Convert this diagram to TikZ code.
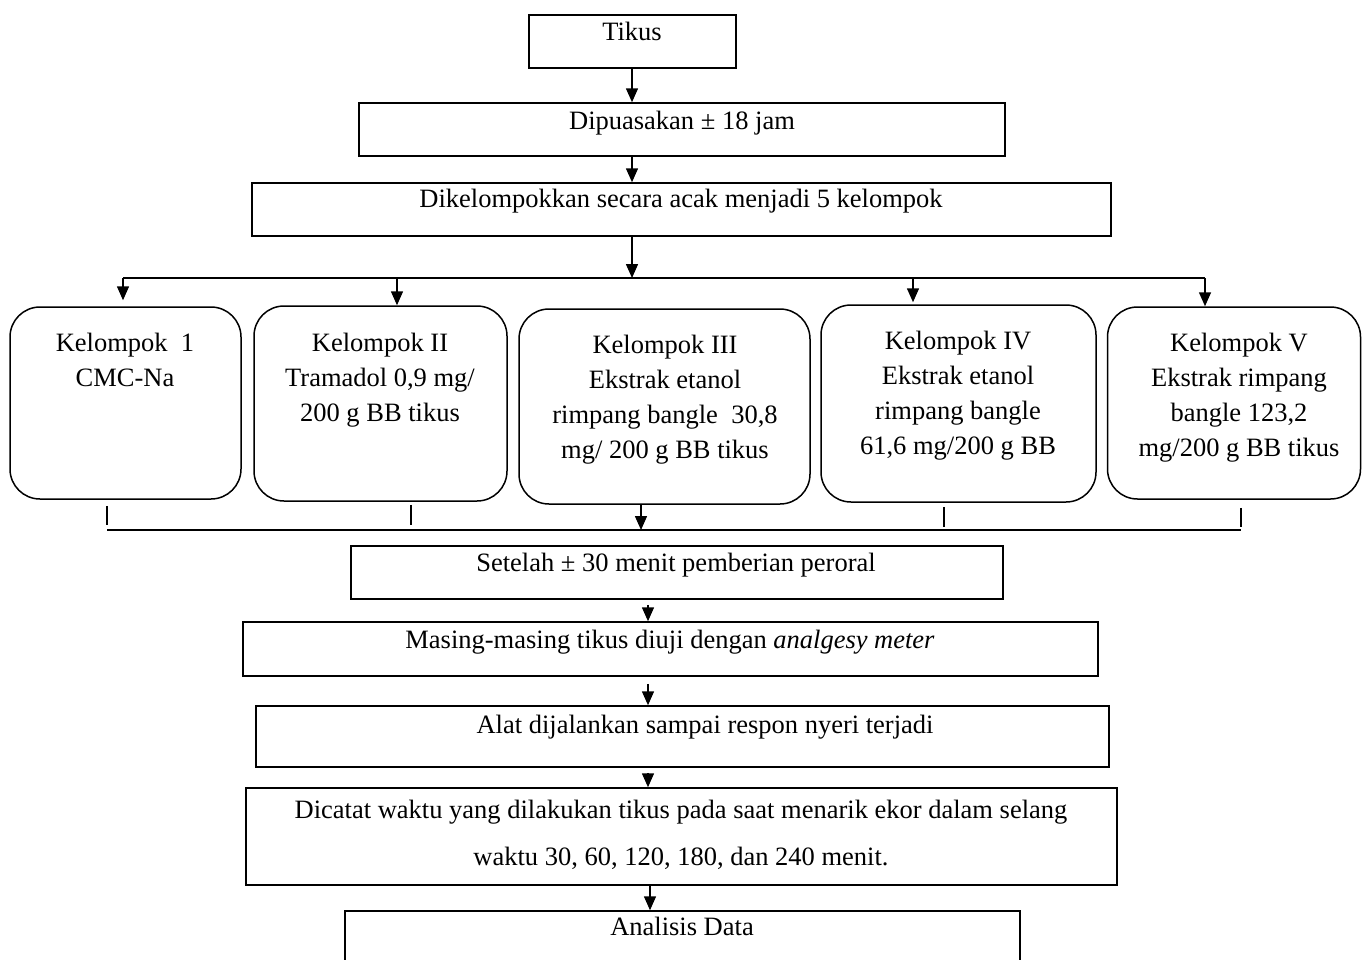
\documentclass[tikz,border=0pt]{standalone}
\usepackage{fontspec}
\setmainfont{Liberation Serif}
\usetikzlibrary{arrows.meta}
\tikzset{
  box/.style={draw, line width=1.5pt, inner sep=0pt},
  rbox/.style={draw, line width=1.5pt, inner sep=0pt, rounded corners=30pt},
  lbl/.style={inner sep=0pt, align=center, font=\fontsize{26.5}{35}\selectfont},
  arr/.style={line width=1.5pt, -{Triangle[width=12pt,length=14pt]}},
  ln/.style={line width=1.5pt},
}
\begin{document}
\begin{tikzpicture}[x=1pt,y=-1pt]
\useasboundingbox (0,0) rectangle (1362,959);
% boxes
\node[box, minimum width=207pt, minimum height=53pt] (b1) at (632.5,41.5) {};
\node[box, minimum width=646pt, minimum height=53pt] (b2) at (682,129.5) {};
\node[box, minimum width=859pt, minimum height=53pt] (b3) at (681.5,209.5) {};
\node[rbox, minimum width=231pt, minimum height=192pt] (k1) at (125.5,403) {};
\node[rbox, minimum width=253pt, minimum height=195pt] (k2) at (380.5,403.5) {};
\node[rbox, minimum width=291pt, minimum height=195pt] (k3) at (664.5,406.5) {};
\node[rbox, minimum width=275pt, minimum height=197pt] (k4) at (958.5,403.5) {};
\node[rbox, minimum width=253pt, minimum height=192pt] (k5) at (1234,403) {};
\node[box, minimum width=652pt, minimum height=53pt] (b4) at (677,572.5) {};
\node[box, minimum width=855pt, minimum height=54pt] (b5) at (670.5,649) {};
\node[box, minimum width=853pt, minimum height=61pt] (b6) at (682.5,736.5) {};
\node[box, minimum width=871pt, minimum height=97pt] (b7) at (681.5,836.5) {};
\node[box, minimum width=675pt, minimum height=89pt] (b8) at (682.5,955.5) {};
% texts
\node[lbl, anchor=base] (t1) at (632,40) {Tikus};
\node[lbl, anchor=base] (t2) at (682,129) {Dipuasakan ± 18 jam};
\node[lbl, anchor=base] (t3) at (681,207) {Dikelompokkan secara acak menjadi 5 kelompok};
\node[lbl, anchor=north] (tk1) at (125,333) {Kelompok\ \ 1\\CMC-Na};
\node[lbl, anchor=north] (tk2) at (380,333) {Kelompok II\\Tramadol 0,9 mg/\\200 g BB tikus};
\node[lbl, anchor=north] (tk3) at (665,335) {Kelompok III\\Ekstrak etanol\\rimpang bangle\ \ 30,8\\mg/ 200 g BB tikus};
\node[lbl, anchor=north] (tk4) at (958,331) {Kelompok IV\\Ekstrak etanol\\rimpang bangle\\61,6 mg/200 g BB};
\node[lbl, anchor=north] (tk5) at (1239,333) {Kelompok V\\Ekstrak rimpang\\bangle 123,2\\mg/200 g BB tikus};
\node[lbl, anchor=base] (t4) at (676,571) {Setelah ± 30 menit pemberian peroral};
\node[lbl, anchor=base] (t5) at (670,648) {Masing-masing tikus diuji dengan \textit{analgesy meter}};
\node[lbl, anchor=base] (t6) at (705,733) {Alat dijalankan sampai respon nyeri terjadi};
\node[lbl, anchor=north, font=\fontsize{26.5}{47}\selectfont] (t7) at (681,800) {Dicatat waktu yang dilakukan tikus pada saat menarik ekor dalam selang\\waktu 30, 60, 120, 180, dan 240 menit.};
\node[lbl, anchor=base] (t8) at (682,935) {Analisis Data};
% top connectors
\coordinate (c0) at (632,0);
\draw[arr] (b1.south -| c0) -- (b2.north -| c0);
\draw[arr] (b2.south -| c0) -- (b3.north -| c0);
\coordinate (barL) at (123,278);
\coordinate (barR) at (1205,278);
\draw[ln] (barL) -- (barR);
\draw[arr] (b3.south -| c0) -- (c0 |- barL);
\coordinate (a2) at (397,278);
\coordinate (a4) at (913,278);
\draw[arr] (barL) -- ([yshift=6pt]barL |- k1.north);
\draw[arr] (a2) -- (a2 |- k2.north);
\draw[arr] (a4) -- ([yshift=2pt]a4 |- k4.north);
\draw[arr] (barR) -- (barR |- k5.north);
% bottom collector
\coordinate (bL) at (107,530);
\coordinate (bR) at (1241,530);
\draw[ln] (bL) -- (bR);
\coordinate (s2) at (411,530);
\coordinate (s4) at (944,530);
\draw[ln] ([yshift=-6pt]bL |- k1.south) -- ([yshift=5pt]bL);
\draw[ln] ([yshift=-3pt]s2 |- k2.south) -- ([yshift=5pt]s2);
\draw[ln] ([yshift=-4pt]s4 |- k4.south) -- ([yshift=3pt]s4);
\draw[ln] ([yshift=-8pt]bR |- k5.south) -- ([yshift=3pt]bR);
\coordinate (c3) at (641,530);
\draw[arr] (c3 |- k3.south) -- (c3);
% lower chain
\coordinate (c1) at (648,0);
\draw[arr] ([yshift=-5pt]b4.south -| c1) -- (b5.north -| c1);
\draw[arr] ([yshift=-7pt]b5.south -| c1) -- (b6.north -| c1);
\draw[arr] ([yshift=-5pt]b6.south -| c1) -- (b7.north -| c1);
\coordinate (c2) at (650,0);
\draw[arr] (b7.south -| c2) -- (b8.north -| c2);
\end{tikzpicture}
\end{document}
